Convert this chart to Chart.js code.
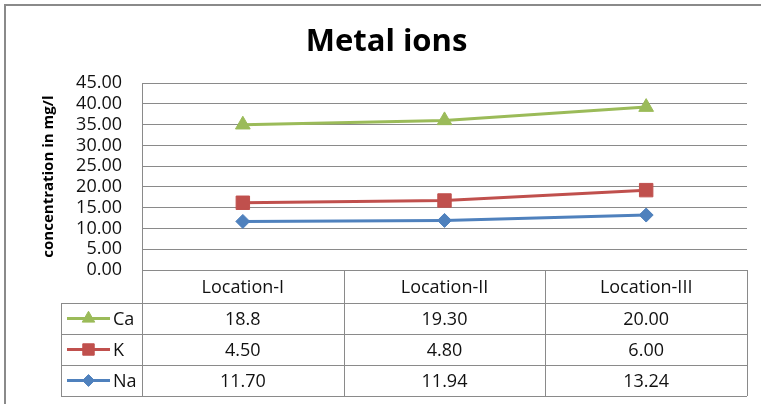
<!DOCTYPE html>
<html>
<head>
<meta charset="utf-8">
<script src="https://cdn.jsdelivr.net/npm/chart.js@4/dist/chart.umd.min.js"></script>
<style>
  html, body { margin: 0; padding: 0; background: #fff; }
  canvas { display: block; }
</style>
</head>
<body>
<canvas id="c" width="761" height="404"></canvas>
<script>
// ---- data (as shown in the chart's data table) ----
const categories = ['Location-I', 'Location-II', 'Location-III'];
const caValues = ['18.8', '19.30', '20.00'];
const kValues  = ['4.50', '4.80', '6.00'];
const naValues = ['11.70', '11.94', '13.24'];
const seriesNames = ['Ca', 'K', 'Na'];
const yMin = 0, yMax = 45, yStep = 5;
const chartTitle = 'Metal ions';
const yTitle = 'concentration in mg/l';

const GREEN = '#9BBB59', RED = '#C0504D', BLUE = '#4F81BD';
const GRID = '#8a8a8a';
const FONT = "'Open Sans', 'DejaVu Sans', sans-serif";

// table rows top-to-bottom
const tableRows = [
  { name: seriesNames[0], values: caValues, color: GREEN, style: 'triangle', r: 8.5 },
  { name: seriesNames[1], values: kValues,  color: RED,   style: 'rect',     r: 9.5 },
  { name: seriesNames[2], values: naValues, color: BLUE,  style: 'rectRot',  r: 7 }
];

const frame = {
  id: 'frame',
  beforeDraw(chart) {
    const ctx = chart.ctx;
    ctx.save();
    ctx.fillStyle = '#fff';
    ctx.fillRect(0, 0, chart.width, chart.height);
    ctx.strokeStyle = GRID;
    ctx.lineWidth = 2;
    ctx.strokeRect(5, 5, chart.width + 50, chart.height + 50);
    ctx.restore();
  }
};

const dataTable = {
  id: 'dataTable',
  afterDraw(chart) {
    const ctx = chart.ctx;
    const xs = chart.scales.x;
    const area = chart.chartArea;
    const top = xs.top, bottom = xs.bottom;
    const headerH = 33;
    const rowH = (bottom - top - headerH) / tableRows.length;
    const legendLeft = 61;
    const n = categories.length;
    const bounds = [area.left];
    for (let i = 0; i < n - 1; i++) {
      bounds.push((xs.getPixelForTick(i) + xs.getPixelForTick(i + 1)) / 2);
    }
    bounds.push(area.right);

    ctx.save();
    ctx.strokeStyle = GRID;
    ctx.lineWidth = 1;
    ctx.beginPath();
    ctx.moveTo(area.left, Math.round(top) + 0.5);
    ctx.lineTo(area.right, Math.round(top) + 0.5);
    for (let r = 0; r <= tableRows.length; r++) {
      const y = Math.round(top + headerH + r * rowH) + 0.5;
      ctx.moveTo(legendLeft, y);
      ctx.lineTo(area.right, y);
    }
    bounds.forEach((bx) => {
      const x = Math.round(bx) + 0.5;
      ctx.moveTo(x, top);
      ctx.lineTo(x, bottom);
    });
    ctx.moveTo(legendLeft + 0.5, top + headerH);
    ctx.lineTo(legendLeft + 0.5, bottom);
    ctx.stroke();

    ctx.fillStyle = '#111';
    ctx.font = '18px ' + FONT;
    ctx.textAlign = 'center';
    ctx.textBaseline = 'middle';
    categories.forEach((c, i) => {
      ctx.fillText(c, xs.getPixelForTick(i), top + headerH / 2 + 1);
    });
    tableRows.forEach((row, r) => {
      const cy = top + headerH + r * rowH + rowH / 2;
      row.values.forEach((v, i) => {
        ctx.fillStyle = '#111';
        ctx.textAlign = 'center';
        ctx.fillText(v, xs.getPixelForTick(i), cy + 1);
      });
      ctx.strokeStyle = row.color;
      ctx.fillStyle = row.color;
      ctx.lineWidth = 3;
      ctx.beginPath();
      ctx.moveTo(67, cy);
      ctx.lineTo(110, cy);
      ctx.stroke();
      ctx.lineWidth = 1;
      Chart.helpers.drawPoint(ctx, { pointStyle: row.style, radius: row.r * 0.85, rotation: 0, borderWidth: 1 }, 88.5, cy);
      ctx.fillStyle = '#111';
      ctx.textAlign = 'left';
      ctx.fillText(row.name, 113, cy + 1);
    });
    ctx.restore();
  }
};

function ds(label, values, color, style, r) {
  return {
    label, data: values,
    borderColor: color, backgroundColor: color,
    borderWidth: 3, fill: false, tension: 0,
    pointStyle: style, pointRadius: r, pointHoverRadius: r,
    pointBackgroundColor: color, pointBorderColor: color, pointBorderWidth: 1
  };
}

new Chart(document.getElementById('c'), {
  type: 'line',
  data: {
    labels: categories,
    datasets: [
      ds(seriesNames[2], naValues, BLUE, 'rectRot', 7),
      ds(seriesNames[1], kValues, RED, 'rect', 9.5),
      ds(seriesNames[0], caValues, GREEN, 'triangle', 8.5)
    ]
  },
  options: {
    responsive: false,
    animation: false,
    layout: { padding: { top: 0, left: 26, right: 14, bottom: 8 } },
    plugins: {
      legend: { display: false },
      tooltip: { enabled: false },
      title: {
        display: true, text: chartTitle, color: '#000',
        font: { family: FONT, size: 31, weight: 'bold' },
        padding: { top: 24, bottom: 22 }
      }
    },
    scales: {
      x: {
        offset: true,
        ticks: { display: false },
        grid: { display: false },
        border: { display: false },
        afterFit(s) { s.height = 126; }
      },
      y: {
        stacked: true,
        min: yMin, max: yMax,
        ticks: {
          stepSize: yStep, autoSkip: false, padding: 20, color: '#111',
          font: { family: FONT, size: 18 },
          callback: (v) => Number(v).toFixed(2)
        },
        grid: { color: GRID, lineWidth: 1, drawTicks: false },
        border: { display: true, color: GRID, width: 1 },
        title: {
          display: true, text: yTitle, color: '#000',
          font: { family: FONT, size: 15, weight: 'bold' },
          padding: { top: 14, bottom: 0 }
        },
        afterFit(s) { s.width = 116; }
      }
    }
  },
  plugins: [frame, dataTable]
});
</script>
</body>
</html>
